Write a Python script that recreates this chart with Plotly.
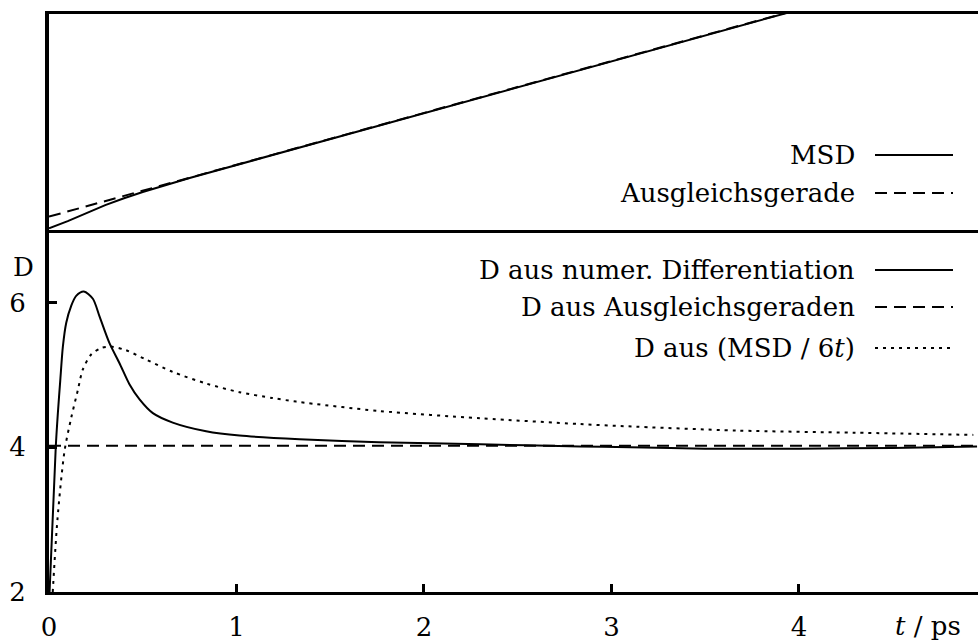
import plotly.graph_objects as go

# --- data -------------------------------------------------------------
# upper panel: mean squared displacement and its fitted straight line
t_msd = [0.0, 0.05, 0.1, 0.2, 0.3, 0.4, 0.5, 0.75, 1.0, 1.5, 2.0, 2.5, 3.0, 3.5, 4.0, 4.5, 4.95]
msd = [0.8, 2.3, 4.1, 7.8, 11.5, 14.7, 17.6, 24.1, 30.1, 42.1, 54.1, 66.1, 78.0, 89.9, 101.9, 113.9, 124.8]
t_fit = [0.0, 4.95]
msd_fit = [6.2, 125.0]

# lower panel: diffusion coefficient from three methods
t_num = [0.003, 0.036, 0.047, 0.06, 0.074, 0.092, 0.118, 0.145, 0.186, 0.234, 0.269,
         0.322, 0.376, 0.429, 0.483, 0.554, 0.66, 0.838, 1.016, 1.336, 1.76, 2.30,
         2.83, 3.10, 3.50, 4.00, 4.50, 4.95]
d_num = [2.0, 4.0, 4.46, 4.92, 5.39, 5.72, 5.95, 6.09, 6.15, 6.05, 5.81,
         5.44, 5.16, 4.87, 4.66, 4.47, 4.34, 4.22, 4.16, 4.11, 4.07, 4.04,
         4.01, 4.00, 3.98, 3.98, 3.99, 4.01]

t_fitd = [0.0, 4.95]
d_fit = [4.02, 4.02]

t_ratio = [0.02, 0.045, 0.083, 0.118, 0.154, 0.18, 0.225, 0.278, 0.33, 0.41, 0.518,
           0.66, 0.838, 1.016, 1.19, 1.318, 1.76, 2.30, 2.83, 3.07, 3.67, 4.30, 4.93]
d_ratio = [2.0, 3.0, 3.95, 4.40, 4.79, 5.07, 5.28, 5.37, 5.39, 5.34, 5.21,
           5.04, 4.88, 4.76, 4.68, 4.63, 4.50, 4.40, 4.32, 4.29, 4.23, 4.20, 4.17]

x_ticks = [0, 1, 2, 3, 4]
y_ticks = [2, 4, 6]

FONT = "DejaVu Serif"
FS = 26
LW = 2

fig = go.Figure()

# upper panel
fig.add_trace(go.Scatter(x=t_msd, y=msd, mode="lines", xaxis="x2", yaxis="y2",
                         line=dict(color="black", width=LW)))
fig.add_trace(go.Scatter(x=t_fit, y=msd_fit, mode="lines", xaxis="x2", yaxis="y2",
                         line=dict(color="black", width=LW, dash="12px,7px")))

# lower panel
fig.add_trace(go.Scatter(x=t_num, y=d_num, mode="lines", line_shape="spline",
                         line=dict(color="black", width=LW, smoothing=0.8)))
fig.add_trace(go.Scatter(x=t_fitd, y=d_fit, mode="lines",
                         line=dict(color="black", width=LW, dash="12px,7px")))
fig.add_trace(go.Scatter(x=t_ratio, y=d_ratio, mode="lines", line_shape="spline",
                         line=dict(color="black", width=LW, dash="3px,5px", smoothing=0.8)))

split = 0.6263
xr = [0, 4.955]

fig.update_layout(
    width=978, height=641,
    margin=dict(l=49, r=0, t=14, b=49),
    paper_bgcolor="white", plot_bgcolor="white",
    showlegend=False,
    font=dict(family=FONT, size=FS, color="black"),
    xaxis=dict(range=xr, anchor="y", showline=True, linewidth=3, linecolor="black",
               ticks="inside", ticklen=8, tickwidth=3, tickcolor="black",
               tickvals=x_ticks, ticklabelstandoff=10,
               showgrid=False, zeroline=False),
    yaxis=dict(range=[2, 7], domain=[0, split], anchor="x", showline=True, linewidth=4,
               linecolor="black", ticks="inside", ticklen=8, tickwidth=3,
               tickcolor="black", tickvals=y_ticks, ticklabelstandoff=14,
               showgrid=False, zeroline=False),
    xaxis2=dict(range=xr, anchor="y2", matches="x", showline=True, mirror=True,
                linewidth=3, linecolor="black", ticks="", showticklabels=False,
                showgrid=False, zeroline=False),
    yaxis2=dict(range=[0, 100], domain=[split, 1], anchor="x2", showline=True,
                linewidth=4, linecolor="black", ticks="", showticklabels=False,
                showgrid=False, zeroline=False),
)

# in-plot key: text right-aligned, line sample to its right
def py(pix):
    return (592 - pix) / 578

def px(pix):
    return (pix - 49) / 929

key = [
    ("MSD", 155, "solid"),
    ("Ausgleichsgerade", 193, "12px,7px"),
    ("D aus numer. Differentiation", 270, "solid"),
    ("D aus Ausgleichsgeraden", 307, "12px,7px"),
    ("D aus (MSD / 6<i>t</i>)", 348, "3px,5px"),
]
for text, ypix, dash in key:
    fig.add_annotation(x=px(857), y=py(ypix), xref="paper", yref="paper",
                       text=text, showarrow=False, xanchor="right", yanchor="middle",
                       font=dict(family=FONT, size=FS))
    fig.add_shape(type="line", xref="paper", yref="paper",
                  x0=px(875), x1=px(953), y0=py(ypix), y1=py(ypix),
                  line=dict(color="black", width=LW, dash=dash))

fig.add_annotation(x=px(23), y=py(267), xref="paper", yref="paper", text="D",
                   showarrow=False, xanchor="center", yanchor="middle",
                   font=dict(family=FONT, size=FS))
fig.add_annotation(x=px(928), y=py(626), xref="paper", yref="paper",
                   text="<i>t</i> / ps", showarrow=False, xanchor="center",
                   yanchor="middle", font=dict(family=FONT, size=FS))

fig.write_html("out.html")
